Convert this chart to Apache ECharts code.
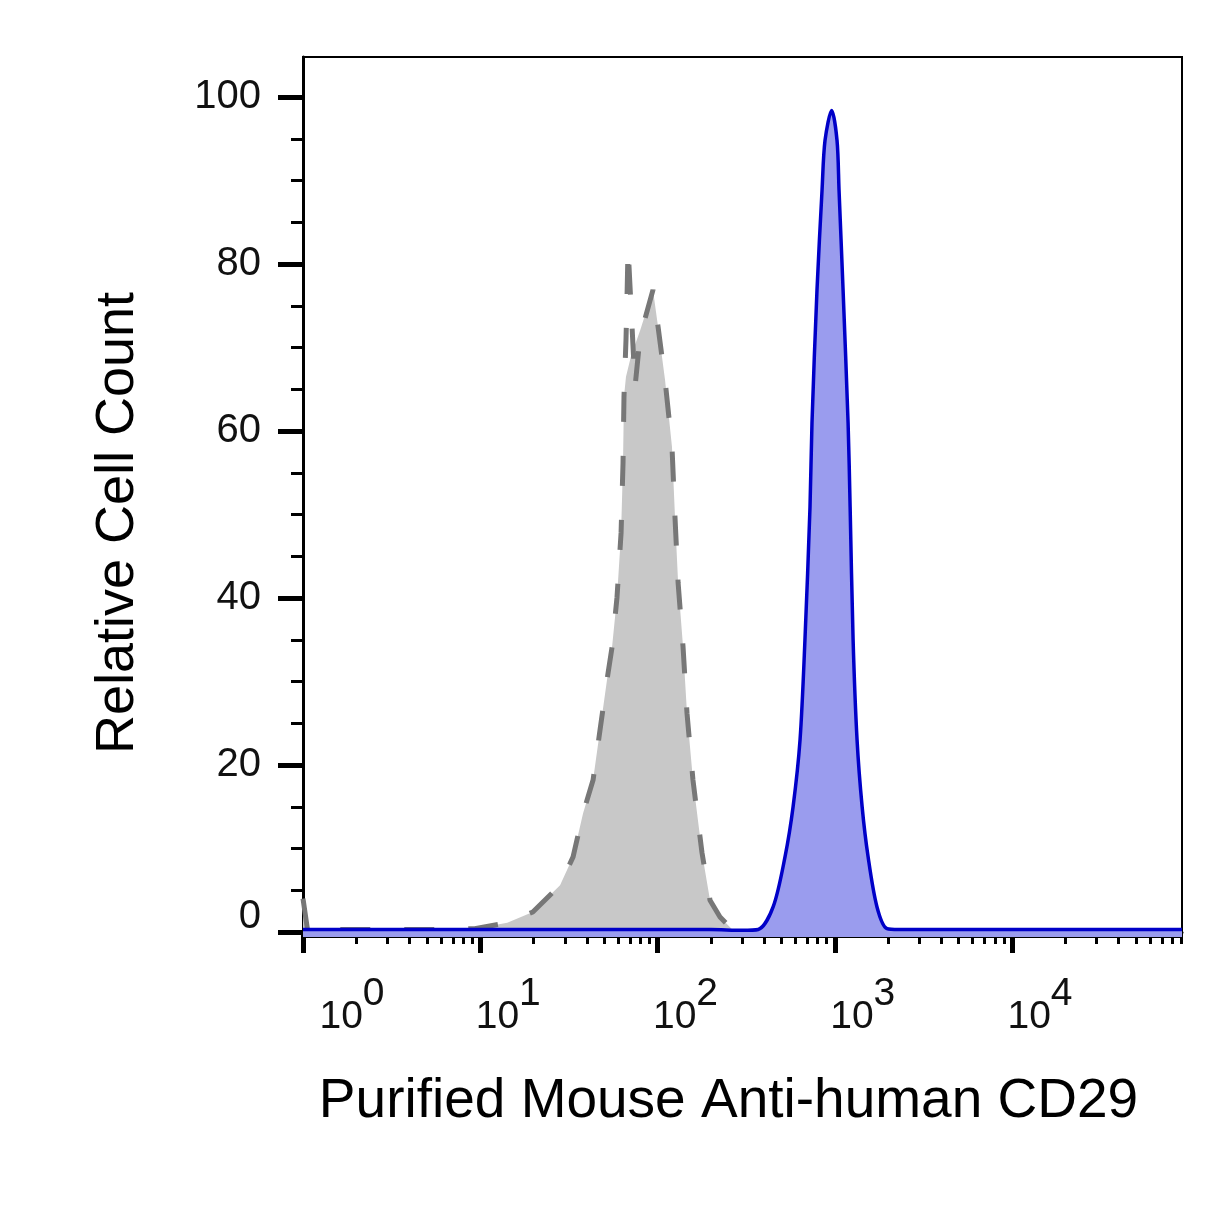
<!DOCTYPE html>
<html>
<head>
<meta charset="utf-8">
<title>CD29 histogram</title>
<script src="https://cdn.jsdelivr.net/npm/echarts@6/dist/echarts.min.js"></script>
<style>html, body { margin: 0; background: #fff; }</style>
</head>
<body>
<div id="main" style="width: 1228px; height: 1217px;"></div>
<script type="text/javascript">
// intensity (linear units) and relative cell count
// isotype control, dashed outline
var isoX = [1, 1.06, 6.2, 9.3, 14.2, 19.8, 28.2, 33.4, 38.0, 43.3, 47.4, 51.9, 55.4, 59.1, 62.3, 63.9,
    64.7, 66.4, 67.3, 68.2, 70.9, 74.7, 79.7, 94.3, 100.7, 110.3, 120.7, 125.5, 130.7, 139.4, 146.7,
    158.5, 178.2, 197.8, 225.2, 266.8, 300];
var isoY = [4, 0.3, 0.3, 0.4, 1.1, 2.4, 5.6, 9.0, 14.2, 18.2, 24.2, 30.2, 34.1, 40.1, 47.8, 56.2,
    64.1, 70.9, 76.0, 82.0, 74.9, 65.3, 71.3, 76.9, 72.5, 66.1, 58.1, 49.7, 41.8, 34.1, 26.2,
    18.2, 9.5, 3.8, 1.8, 0.2, 0.1];
// isotype control, grey fill
var isoFillX = [1, 1.06, 6.2, 9.3, 14.2, 19.8, 28.2, 33.4, 38.0, 43.3, 47.4, 51.9, 55.4, 59.1, 62.3, 63.9,
    64.7, 66.4, 70.9, 79.7, 94.3, 100.7, 110.3, 120.7, 125.5, 130.7, 139.4, 146.7,
    158.5, 178.2, 197.8, 225.2, 266.8, 300];
var isoFillY = [4, 0.3, 0.3, 0.4, 1.1, 2.4, 5.6, 9.0, 14.2, 18.2, 24.2, 30.2, 34.1, 40.1, 47.8, 56.2,
    64.1, 66.5, 69.0, 72.0, 76.9, 72.5, 66.1, 58.1, 49.7, 41.8, 34.1, 26.2,
    18.2, 9.5, 3.8, 1.8, 0.2, 0.1];
// anti-CD29, blue
var cd29X = [1, 200, 300, 370, 449, 524, 582, 637, 679, 725, 744, 794, 848, 881, 961,
    1030, 1057, 1114, 1189, 1221, 1269, 1336, 1427, 1542, 1731, 1972, 2300, 91000];
var cd29Y = [0.3, 0.3, 0.2, 0.3, 3.0, 9.0, 15.0, 23.0, 35.0, 50.9, 61.0, 76.9, 88.9, 94.8, 98.4,
    94.8, 88.9, 76.9, 61.0, 50.9, 35.0, 23.0, 15.0, 9.0, 3.0, 0.4, 0.3, 0.3];

var yTicks = [0, 20, 40, 60, 80, 100];
var yMinorTicks = [5, 10, 15, 25, 30, 35, 45, 50, 55, 65, 70, 75, 85, 90, 95];
var xDecades = [0, 1, 2, 3, 4];
var xMax = 91000;

var FONT = 'Liberation Sans';

// x axis is drawn in log10 units
var xMinorTicks = [];
xDecades.forEach(function (d) {
    for (var k = 2; k <= 9; k++) {
        var v = Math.log10(k) + d;
        if (v <= Math.log10(xMax)) xMinorTicks.push(v);
    }
});

function pairs(xs, ys) {
    return xs.map(function (x, i) { return [Math.log10(x), ys[i]]; });
}

var myChart = echarts.init(document.getElementById('main'));

myChart.setOption({
    animation: false,
    grid: {
        left: 303, right: 46, top: 57, bottom: 280,
        show: true, borderColor: '#000', borderWidth: 2
    },
    xAxis: [{
        type: 'value',
        position: 'bottom',
        min: 0,
        max: Math.log10(xMax),
        splitLine: { show: false },
        axisLine: { lineStyle: { color: '#000', width: 3 } },
        axisTick: { customValues: xDecades, length: 21, lineStyle: { color: '#000', width: 5 } },
        axisLabel: {
            customValues: xDecades,
            margin: 59,
            align: 'center',
            formatter: function (v) {
                var e = Math.round(v);
                return (e === 0 ? '{w0| }' : '{w| }') + '{b|10}{s|' + e + '}';
            },
            rich: {
                w: { width: 56, fontSize: 39 },
                w0: { width: 98, fontSize: 39 },
                b: { fontSize: 39, lineHeight: 42, fontFamily: FONT, color: '#111' },
                s: { fontSize: 39, lineHeight: 42, fontFamily: FONT, color: '#111', padding: [0, 0, 46, 0] }
            }
        },
        name: 'Purified Mouse Anti-human CD29',
        nameLocation: 'middle',
        nameGap: 137,
        nameTextStyle: { fontSize: 55, fontFamily: FONT, color: '#000', padding: [0, 28, 0, 0] }
    }, {
        type: 'value',
        position: 'bottom',
        min: 0,
        max: Math.log10(xMax),
        splitLine: { show: false },
        axisLine: { show: false },
        axisTick: { customValues: xMinorTicks, length: 12, lineStyle: { color: '#000', width: 3 } },
        axisLabel: { show: false }
    }],
    yAxis: [{
        type: 'value',
        position: 'left',
        min: -0.6,
        max: 104.8,
        splitLine: { show: false },
        axisLine: { lineStyle: { color: '#000', width: 3 } },
        axisTick: { customValues: yTicks, length: 25, lineStyle: { color: '#000', width: 5 } },
        axisLabel: {
            customValues: yTicks,
            margin: 42,
            formatter: function (v) {
                return v === 0 ? '{z|0}' : '{n|' + v + '}';
            },
            rich: {
                n: { fontSize: 40, fontFamily: FONT, color: '#111' },
                z: { fontSize: 40, fontFamily: FONT, color: '#111', padding: [0, 0, 30, 0] }
            }
        },
        name: 'Relative Cell Count',
        nameLocation: 'middle',
        nameGap: 158,
        nameTextStyle: { fontSize: 54, fontFamily: FONT, color: '#000', padding: [0, 52, 0, 0] }
    }, {
        type: 'value',
        position: 'left',
        min: -0.6,
        max: 104.8,
        splitLine: { show: false },
        axisLine: { show: false },
        axisTick: { customValues: yMinorTicks, length: 12, lineStyle: { color: '#000', width: 3 } },
        axisLabel: { show: false }
    }],
    series: [{
        name: 'isotype fill',
        type: 'line',
        data: pairs(isoFillX, isoFillY),
        symbol: 'none',
        lineStyle: { width: 0 },
        areaStyle: { color: '#c8c8c8', opacity: 1, origin: 'start' },
        z: 2
    }, {
        name: 'isotype',
        type: 'line',
        data: pairs(isoX, isoY),
        symbol: 'none',
        lineStyle: { color: '#777', width: 5, type: [30, 34] },
        z: 3
    }, {
        name: 'CD29',
        type: 'line',
        data: pairs(cd29X, cd29Y),
        symbol: 'none',
        smooth: 0.3,
        lineStyle: { color: '#0000c8', width: 3.5 },
        areaStyle: { color: '#9a9cee', opacity: 1, origin: 'start' },
        z: 4
    }]
});
</script>
</body>
</html>
